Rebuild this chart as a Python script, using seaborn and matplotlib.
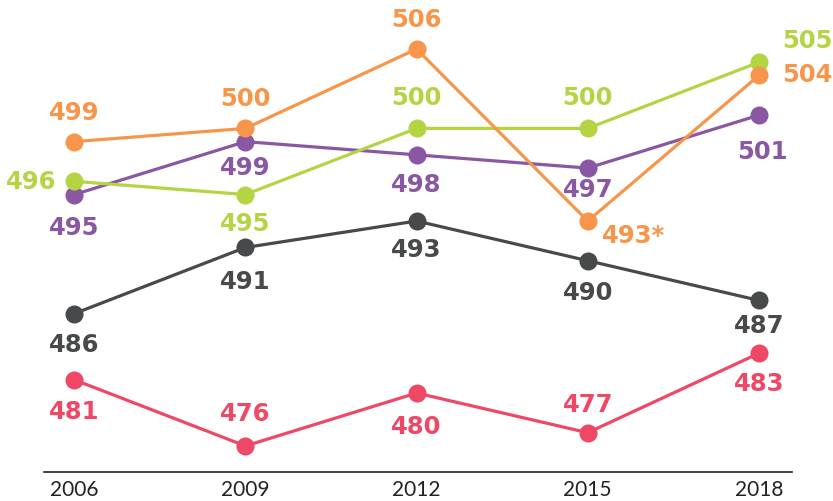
import pandas as pd
import matplotlib.pyplot as plt
import seaborn as sns

years = [2006, 2009, 2012, 2015, 2018]
red = [481, 476, 480, 477, 483]
gray = [486, 491, 493, 490, 487]
purple = [495, 499, 498, 497, 501]
green = [496, 495, 500, 500, 505]
orange = [499, 500, 506, 493, 504]
orange_labels = ["499", "500", "506", "493*", "504"]

series = {"red": red, "gray": gray, "purple": purple, "green": green, "orange": orange}
colors = {"red": "#EE4866", "gray": "#47494A", "purple": "#8A57A3",
          "green": "#B5D443", "orange": "#F7954A"}

# label offsets in pixels (dx, dy, ha) per point
offsets = {
    "red": [(0, -31, "center"), (0, 33, "center"), (0, -33, "center"), (0, 29, "center"), (0, -30, "center")],
    "gray": [(0, -30, "center"), (0, -34, "center"), (0, -28, "center"), (0, -31, "center"), (0, -25, "center")],
    "purple": [(0, -32, "center"), (0, -25, "center"), (0, -29, "center"), (0, -21, "center"), (4, -36, "center")],
    "green": [(-18, 0, "right"), (0, -28, "center"), (0, 31, "center"), (0, 31, "center"), (23, 22, "left")],
    "orange": [(0, 30, "center"), (0, 30, "center"), (0, 30, "center"), (14, -14, "left"), (23, 1, "left")],
}

rows = []
for name, vals in series.items():
    for y, v in zip(years, vals):
        rows.append({"year": y, "score": v, "series": name})
df = pd.DataFrame(rows)

sns.set_style("white")
plt.rcParams['font.family'] = ['DejaVu Sans']

fig = plt.figure(figsize=(8.33, 5.02), dpi=100)
ax = fig.add_axes([44 / 833, 29 / 502, 748 / 833, 473 / 502])

sns.lineplot(data=df, x="year", y="score", hue="series", palette=colors,
             hue_order=list(series.keys()), marker="o", markersize=13,
             markeredgewidth=0, linewidth=2.3, legend=False, ax=ax)

for name, vals in series.items():
    labels = orange_labels if name == "orange" else [str(v) for v in vals]
    for (y, v, lab, (dx, dy, ha)) in zip(years, vals, labels, offsets[name]):
        ax.annotate(lab, (y, v), xytext=(dx, dy), textcoords="offset pixels",
                    ha=ha, va="center", fontsize=17.5, fontweight="bold",
                    color=colors[name], annotation_clip=False)

ax.set_xlim(2005.47, 2018.58)
ax.set_ylim(474.03, 509.78)
ax.set_xticks(years)
ax.set_xticklabels([str(y) for y in years], fontsize=15, family=["Lato", "DejaVu Sans"],
                   color="#222222")
ax.set_yticks([])
ax.set_xlabel("")
ax.set_ylabel("")
for s in ["top", "left", "right"]:
    ax.spines[s].set_visible(False)
ax.spines["bottom"].set_color("#222222")
ax.spines["bottom"].set_linewidth(1.2)
ax.tick_params(axis="x", length=0, pad=5)

fig.savefig("out.png", dpi=100)
